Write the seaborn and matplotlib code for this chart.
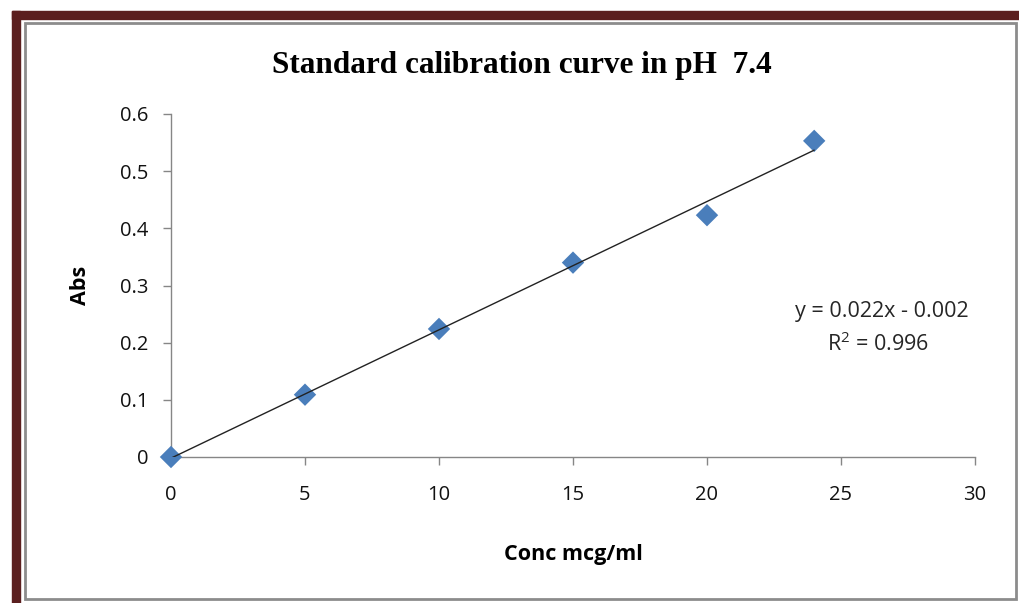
import numpy as np
import pandas as pd
import seaborn as sns
import matplotlib
import matplotlib.pyplot as plt
from matplotlib.patches import Rectangle

matplotlib.use('Agg')

# Data
conc = [0, 5, 10, 15, 20, 24]
absorbance = [0.0, 0.109, 0.224, 0.340, 0.423, 0.553]
x_ticks = [0, 5, 10, 15, 20, 25, 30]
y_ticks = [0, 0.1, 0.2, 0.3, 0.4, 0.5, 0.6]
equation_text = "y = 0.022x - 0.002"
r2_text = "R$^2$ = 0.996"

df = pd.DataFrame({"Conc mcg/ml": conc, "Abs": absorbance})

sns.set_style("white")
plt.rcParams['font.family'] = ['Open Sans', 'DejaVu Sans']
plt.rcParams['mathtext.fontset'] = 'custom'
plt.rcParams['mathtext.rm'] = 'Open Sans'

W, H = 1019, 603
fig = plt.figure(figsize=(W / 100, H / 100), dpi=100)

# Decorative page borders (dark red bars and grey chart frame)
dark_red = "#5b1f1f"
fig.patches.append(Rectangle((12 / W, 1 - 19 / H), 1 - 12 / W, 8 / H,
                             transform=fig.transFigure, color=dark_red, zorder=0))
fig.patches.append(Rectangle((12 / W, 0), 8 / W, 1 - 11 / H,
                             transform=fig.transFigure, color=dark_red, zorder=0))
fig.patches.append(Rectangle((25 / W, 1 - 599 / H), (1016 - 25) / W, (599 - 23) / H,
                             transform=fig.transFigure, fill=False,
                             edgecolor="#8c8c8c", lw=2, zorder=0))

ax = fig.add_axes([171 / W, 1 - 457 / H, (975 - 171) / W, (457 - 114) / H])

sns.regplot(data=df, x="Conc mcg/ml", y="Abs", ax=ax, ci=None,
            marker="D",
            scatter_kws={"s": 130, "color": "#4a7ebb", "edgecolors": "none",
                         "alpha": 1.0, "zorder": 3, "clip_on": False},
            line_kws={"color": "#222222", "lw": 1.0, "zorder": 4})

ax.set_xlim(0, 30)
ax.set_ylim(0, 0.6)
ax.set_xticks(x_ticks)
ax.set_yticks(y_ticks)
ax.set_xticklabels([str(t) for t in x_ticks])
ax.set_yticklabels(["0" if t == 0 else f"{t:.1f}" for t in y_ticks])

for side in ["top", "right"]:
    ax.spines[side].set_visible(False)
for side in ["left", "bottom"]:
    ax.spines[side].set_color("#868686")
    ax.spines[side].set_linewidth(1.0)
ax.tick_params(axis="both", direction="out", length=6, width=1, color="#868686",
               labelsize=14.5, labelcolor="#111111", bottom=True, left=True)
ax.tick_params(axis="x", pad=14)
ax.tick_params(axis="y", pad=10)

ax.set_xlabel("Conc mcg/ml", fontsize=15.5, fontweight="bold", labelpad=28,
              color="black")
ax.set_ylabel("Abs", fontsize=15.5, fontweight="bold", labelpad=21, color="black")

fig.text(882 / W, 1 - 312 / H, equation_text, fontsize=15.5, ha="center", va="center")
fig.text(878 / W, 1 - 344 / H, r2_text, fontsize=15.5, ha="center", va="center")

fig.text(522 / W, 1 - 65 / H, "Standard calibration curve in pH  7.4",
         family=["Liberation Serif", "DejaVu Serif"], fontweight="bold",
         fontsize=22.5, ha="center", va="center", color="black")

fig.savefig("out.png", dpi=100)
